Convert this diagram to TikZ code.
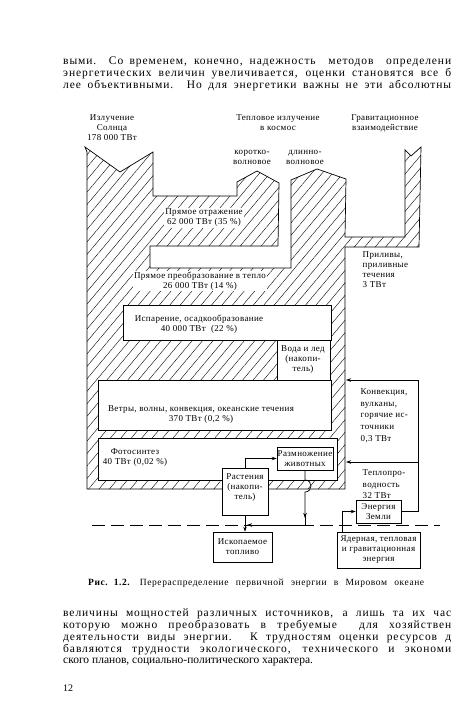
\documentclass[tikz,border=0pt]{standalone}
\usepackage{fontspec}
\setmainfont{Liberation Serif}
\newfontfamily\bodyf[LetterSpace=8]{Liberation Serif}
\newfontfamily\plainf{Liberation Serif}
\newfontfamily\capf[LetterSpace=6]{Liberation Serif}
\newfontfamily\labf[LetterSpace=4]{Liberation Serif}
\usetikzlibrary{patterns.meta,arrows.meta,calc,fit}
\begin{document}
\begin{tikzpicture}[x=1pt,y=-1pt,
  box/.style={draw, fill=white, line width=0.6pt, inner sep=0pt},
  lab/.style={font=\labf\fontsize{9}{10}\selectfont, align=center, inner sep=0.5pt},
  wlab/.style={lab, fill=white, inner sep=1pt},
  arr/.style={-{Stealth[length=5pt,width=3.5pt]}, line width=0.7pt},
  conn/.style={line width=0.7pt},
  hatch/.style={pattern={Lines[angle=50,distance=8pt,line width=0.4pt]}, draw, line width=0.7pt},
  body/.style={font=\bodyf\fontsize{11.5}{12}\selectfont, anchor=west, inner sep=0pt},
]
\fill[white] (0,0) rectangle (450,719);
\useasboundingbox (0,0) rectangle (450,719);
\clip (0,0) rectangle (450,719);

% body text top
\node[body] (t1) at (63,62) {\makebox[388pt][s]{выми. Со временем, конечно, надежность \ методов \ определени}};
\node[body] (t2) at (63,74) {\makebox[388pt][s]{энергетических величин увеличивается, оценки становятся все б}};
\node[body] (t3) at (63,86) {\makebox[388pt][s]{лее объективными. Но для энергетики важны не эти абсолютны}};

% headers
\node[lab] (hsun) at (112,128) {Излучение\\Солнца\\178 000 ТВт};
\node[lab] (hheat) at (278,123) {Тепловое излучение\\в космос};
\node[lab] (hgrav) at (385,123) {Гравитационное\\взаимодействие};
\node[lab] (hshort) at (252,157) {коротко-\\волновое};
\node[lab] (hlong) at (305,157) {длинно-\\волновое};

% hatched flow shape
\draw[hatch] (85,147) -- (120,172) -- (153,152) -- (153,196) -- (237,196) -- (237,182)
  -- (257,171) -- (279,183) -- (278,246) -- (150,246) -- (150,268) -- (291,268)
  -- (291,180) -- (317,169) -- (346,179) -- (345,237) -- (405,237) -- (405,150)
  -- (411,156) -- (421,147) -- (419,247) -- (345,247) -- (345,489) -- (87,489)
  -- (87,152) -- cycle;

% boxes
\node[box, fit={(123,305) (331,340)}] (evap) {};
\node[box, fit={(277,340) (330,380)}] (water) {};
\node[box, fit={(98,380) (331,430)}] (wind) {};
\node[box, fit={(98,438) (337,480)}] (photo) {};
\node[box, fit={(277,447) (333,470)}] (repro) {};
\node[box, fit={(222,468) (268,515)}] (plants) {};
\node[box, fit={(213,532) (272,562)}] (fossil) {};
\node[box, fit={(356,500) (401,523)}] (earth) {};
\node[box, fit={(337,532) (420,568)}] (nuc) {};

% labels
\node[wlab] (lrefl) at (204,218) {Прямое отражение\\62 000 ТВт (35 \%)};
\node[wlab] (lconv) at (200,281) {Прямое преобразование в тепло\\26 000 ТВт (14 \%)};
\node[lab, align=left, anchor=north west] (ltide) at (362,251) {Приливы,\\приливные\\течения\\3 ТВт};
\node[lab] (levap) at (199,324) {Испарение, осадкообразование\\40 000 ТВт \ (22 \%)};
\node[lab] (lwater) at (303,360) {Вода и лед\\(накопи-\\тель)};
\node[lab] (lwind) at (201,415) {Ветры, волны, конвекция, океанские течения\\370 ТВт (0,2 \%)};
\node[lab] (lphoto) at (135,458) {Фотосинтез\\40 ТВт (0,02 \%)};
\node[lab] (lrepro) at (305,458.5) {Размножение\\животных};
\node[lab] (lplants) at (245,488) {Растения\\(накопи-\\тель)};
\node[lab, align=left, anchor=north west, font=\labf\fontsize{9}{11.7}\selectfont] (lconvec) at (360,388) {Конвекция,\\вулканы,\\горячие ис-\\точники\\0,3 ТВт};
\node[lab, align=left, anchor=north west, font=\labf\fontsize{9}{11.5}\selectfont] (lheat) at (362,469) {Теплопро-\\водность\\32 ТВт};
\node[lab] (learth) at (378.5,511.5) {Энергия\\Земли};
\node[lab] (lfossil) at (242.5,547) {Ископаемое\\топливо};
\node[lab] (lnuc) at (378.5,550) {Ядерная, тепловая\\и гравитационная\\энергия};

% dashed boundary
\coordinate (d1) at (92,525);
\coordinate (d2) at (440,525);
\draw[dash pattern=on 13pt off 6pt, line width=0.8pt] (d1) -- (d2);

% connectors
\draw[arr] (plants.north) |- (repro.west);
\draw[arr] (repro.south) -- (305,480) .. controls (313,480) and (313,492) .. (305,492) -- (305,518);
\coordinate (j1) at (247,525);
\draw[arr] (305,516) |- (j1);
\draw[arr] (plants.south) -- (plants.south |- fossil.north);
\coordinate (rc) at (418,380);
\coordinate (rh) at (418,462);
\coordinate (ec) at (346,380);
\coordinate (eh) at (346,462);
\draw[arr] (earth.east) -| (rc) -- (ec);
\draw[arr] (rh) -- (eh);
\draw[arr] ($(nuc.north west)+(6,0)$) |- (earth.west);

% caption
\node[anchor=west, inner sep=0pt, font=\capf\fontsize{9.5}{11}\selectfont] (cap) at (88,583)
  {\makebox[336pt][s]{\textbf{Рис. 1.2.} \ Перераспределение \ первичной \ энергии \ в \ Мировом \ океане}};

% body text bottom
\node[body] (b1) at (63,614) {\makebox[388pt][s]{величины мощностей различных источников, а лишь та их час}};
\node[body] (b2) at (63,626) {\makebox[388pt][s]{которую можно преобразовать в требуемые \ для хозяйствен}};
\node[body] (b3) at (63,638) {\makebox[388pt][s]{деятельности виды энергии. К трудностям оценки ресурсов д}};
\node[body] (b4) at (63,650) {\makebox[388pt][s]{бавляются трудности экологического, технического и экономи}};
\node[body, font=\plainf\fontsize{11.5}{12}\selectfont] (b5) at (63,662) {ского планов, социально-политического характера.};
\node[body, font=\plainf\fontsize{10}{12}\selectfont] (pg) at (63,688) {12};
\end{tikzpicture}
\end{document}
